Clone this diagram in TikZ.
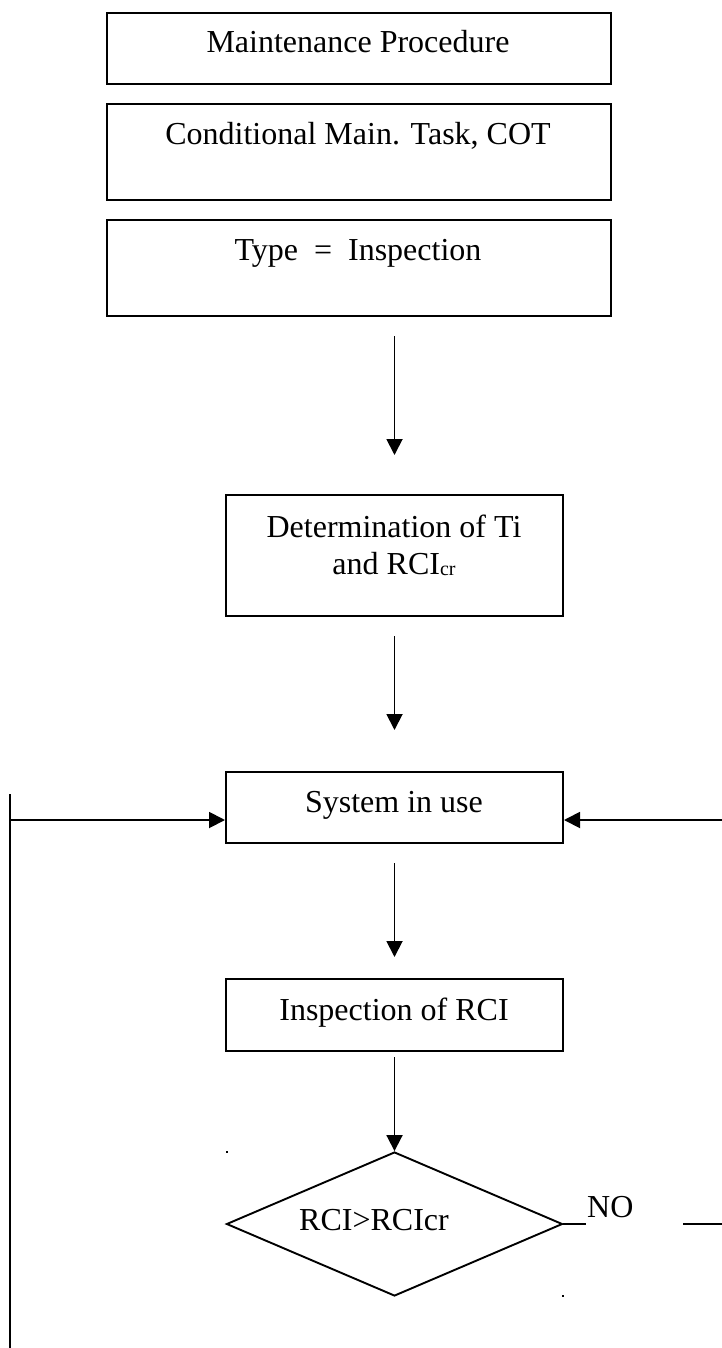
\documentclass[tikz,border=0pt]{standalone}
\usepackage{fontspec}
\setmainfont{Liberation Serif}
\usetikzlibrary{arrows.meta,shapes.geometric}
\begin{document}
\begin{tikzpicture}[x=1pt,y=-1pt,
  box/.style={draw, rectangle, line width=2pt, inner sep=0pt},
  decision/.style={draw, diamond, line width=1.9pt, inner sep=0pt},
  lbl/.style={anchor=base, inner sep=0pt, font=\fontsize{32}{38}\selectfont},
  flow/.style={line width=1.9pt, -{Triangle[length=16pt,width=16pt]}},
  link/.style={line width=1.9pt}]
\useasboundingbox (0,0) rectangle (722,1348);

% header boxes
\node[box, minimum width=504pt, minimum height=71pt] (procbox) at (358.5,48.5) {};
\node[lbl] (proctxt) at (358,53) {Maintenance Procedure};
\node[box, minimum width=504pt, minimum height=96pt] (taskbox) at (358.5,152) {};
\node[lbl] (tasktxt) at (358,145) {Conditional Main. Task, COT};
\node[box, minimum width=504pt, minimum height=96pt] (typebox) at (358.5,268) {};
\node[lbl] (typetxt) at (358,260) {Type~~=~~Inspection};

% process chain
\node[box, minimum width=337pt, minimum height=121pt] (detbox) at (394.5,555.5) {};
\node[lbl] (dettxtA) at (394,537) {Determination of Ti};
\node[lbl] (dettxtB) at (394,574) {and RCI\raisebox{-1pt}{\fontsize{20}{20}\selectfont cr}};
\node[box, minimum width=337pt, minimum height=71pt] (sysbox) at (394.5,807.5) {};
\node[lbl] (systxt) at (394,812) {System in use};
\node[box, minimum width=337pt, minimum height=72pt] (inspbox) at (394.5,1015) {};
\node[lbl] (insptxt) at (394,1020) {Inspection of RCI};
\node[decision, minimum width=336pt, minimum height=144pt] (dec) at (394.5,1224) {};
\node[lbl] (dectxt) at (374,1230) {RCI>RCIcr};
\node[lbl, anchor=base west] (notxt) at (587,1217) {NO};

% arrows between steps
\draw[flow, shorten <=19pt, shorten >=39pt] (detbox.north |- typebox.south) -- (detbox.north);
\draw[flow, shorten <=19pt, shorten >=41pt] (detbox.south) -- (sysbox.north);
\draw[flow, shorten <=19pt, shorten >=21pt] (sysbox.south) -- (inspbox.north);
\draw[flow, shorten <=5pt] (inspbox.south) -- (dec.north);

% feedback lines into "System in use"
\coordinate (lefttop) at (10,794);
\coordinate (leftbot) at (10,1348);
\coordinate (leftjoin) at (10,820);
\coordinate (rightend) at (722,820);
\draw[link] (lefttop) -- (leftbot);
\draw[flow] (leftjoin) -- (sysbox.west |- leftjoin);
\draw[flow] (rightend) -- (sysbox.east |- rightend);

% NO branch
\coordinate (noA) at (586,1224);
\coordinate (noB) at (683,1224);
\coordinate (noC) at (722,1224);
\draw[link] (dec.east) -- (noA);
\draw[link] (noB) -- (noC);

% stray marks
\fill (226,1151) rectangle (228,1153);
\fill (562,1295) rectangle (564,1297);
\end{tikzpicture}
\end{document}
